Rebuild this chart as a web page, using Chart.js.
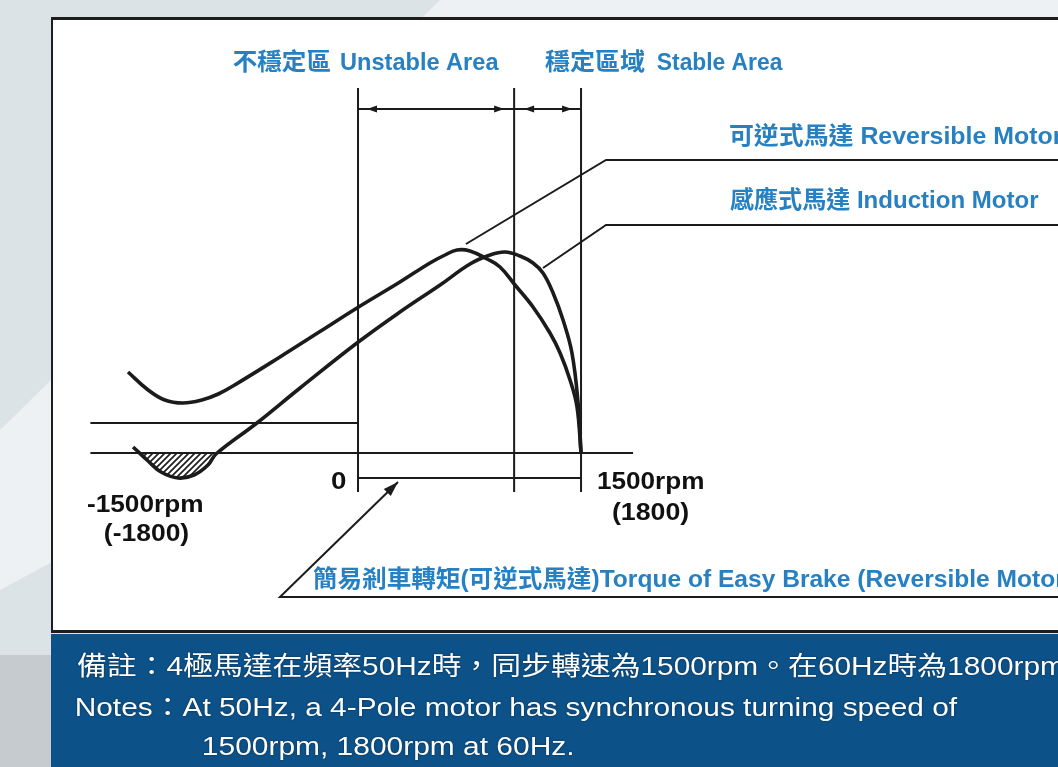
<!DOCTYPE html>
<html>
<head>
<meta charset="utf-8">
<script src="https://cdn.jsdelivr.net/npm/chart.js@4.4.1/dist/chart.umd.min.js"></script>
<style>
  html, body { margin: 0; padding: 0; overflow: hidden; background: #dbe3e7; }
  canvas { display: block; }
</style>
</head>
<body>
<canvas id="myChart" width="1058" height="767"></canvas>
<script>
// speed (rpm) / torque (%)

const reversibleRpm = [-1547, -1420, -1300, -1177, -1050, -940, -841, -525, -256, -7, 282, 484, 585, 666, 753, 868, 955, 1056, 1177, 1291, 1359, 1426, 1473, 1500]
const reversibleTorque = [40.5, 32, 26.5, 25, 26.5, 29.5, 33.5, 48, 60.7, 72.5, 85.5, 95, 99, 101.5, 101, 97, 93, 84, 73, 60, 50, 36.5, 23, 0]

const inductionRpm = [-1513, -1412, -1325, -1210, -1103, -1009, -955, -680, -390, -7, 282, 552, 753, 888, 989, 1090, 1177, 1244, 1312, 1379, 1439, 1480, 1500]
const inductionTorque = [3, -4, -9.5, -12.5, -11, -6, -0.5, 15, 32.5, 55, 70.5, 84, 94.5, 99, 100.5, 98.5, 95, 90, 80, 66.5, 50, 25, 0]

// speed marks: 0, unstable/stable boundary, synchronous speed
const speedMarks = [0, 1050, 1500]
const brakeTorque = 15
const zeroLineRpm = [-1800, 1850]

// leader lines [rpm], [torque]
const reversibleLeaderRpm = [726, 1668, 4800]
const reversibleLeaderTorque = [104.5, 146.5, 146.5]
const inductionLeaderRpm = [1244, 1668, 4800]
const inductionLeaderTorque = [92.5, 114, 114]
const brakeLeaderRpm = [4800, -525, 269]
const brakeLeaderTorque = [-72, -72, -14.5]

// texts
const unstableText = ['不穩定區', 'Unstable Area']
const stableText = ['穩定區域', 'Stable Area']
const reversibleText = '可逆式馬達 Reversible Motor'
const inductionText = '感應式馬達 Induction Motor'
const brakeText = '簡易剎車轉矩(可逆式馬達)Torque of Easy Brake (Reversible Motor)'
const tickTexts = ['0', '1500rpm', '(1800)', '-1500rpm', '(-1800)']
const noteLines = [
    '備註：4極馬達在頻率50Hz時，同步轉速為1500rpm。在60Hz時為1800rpm',
    'Notes：At 50Hz, a 4-Pole motor has synchronous turning speed of',
    '1500rpm, 1800rpm at 60Hz.'
]


let ctx = document.getElementById('myChart').getContext('2d')

// hatch for the braking area
let hatchCanvas = document.createElement('canvas')
hatchCanvas.width = 6
hatchCanvas.height = 6
let hc = hatchCanvas.getContext('2d')
hc.strokeStyle = '#1e1e1e'
hc.lineWidth = 1.7
hc.beginPath()
hc.moveTo(0, 6); hc.lineTo(6, 0)
hc.moveTo(-1, 1); hc.lineTo(1, -1)
hc.moveTo(5, 7); hc.lineTo(7, 5)
hc.stroke()
let hatch = ctx.createPattern(hatchCanvas, 'repeat')

const LINE = '#1b1b1b'
const BLUE = '#2680c2'
const FONT = '"Liberation Sans", "Noto Sans CJK TC", sans-serif'

function line(xs, ys, width, extra) {
    return Object.assign({
        data: xs.map((x, i) => ({x: x, y: ys[i]})),
        borderColor: LINE,
        borderWidth: width,
        pointRadius: 0,
        fill: false,
        tension: 0,
    }, extra || {})
}

const datasets = [
    line([zeroLineRpm[0], speedMarks[0]], [brakeTorque, brakeTorque], 2),
    line(zeroLineRpm, [0, 0], 2),
    line([speedMarks[0], speedMarks[2]], [-12.5, -12.5], 2),
    line([speedMarks[0], speedMarks[2]], [172, 172], 2),
    ...speedMarks.map(m => line([m, m], [182.5, -19.5], 2)),
    line(reversibleLeaderRpm, reversibleLeaderTorque, 2),
    line(inductionLeaderRpm, inductionLeaderTorque, 2),
    line(brakeLeaderRpm, brakeLeaderTorque, 2),
    line(inductionRpm, inductionTorque, 3.6, {
        label: 'Induction Motor',
        tension: 0.4,
        fill: {target: 'origin', above: 'rgba(0,0,0,0)', below: hatch},
    }),
    line(reversibleRpm, reversibleTorque, 3.6, {
        label: 'Reversible Motor',
        tension: 0.4,
    }),
]

// squeeze or stretch a text so its ink spans x0..x1
function fitText(c, text, x0, x1, y) {
    let m = c.measureText(text)
    let ink = m.actualBoundingBoxLeft + m.actualBoundingBoxRight
    c.save()
    c.translate(x0, y)
    c.scale((x1 - x0) / ink, 1)
    c.fillText(text, m.actualBoundingBoxLeft, 0)
    c.restore()
}

function arrowHead(c, tipX, tipY, fromX, fromY, len, half) {
    let a = Math.atan2(tipY - fromY, tipX - fromX)
    c.beginPath()
    c.moveTo(tipX, tipY)
    c.lineTo(tipX - len * Math.cos(a) + half * Math.sin(a), tipY - len * Math.sin(a) - half * Math.cos(a))
    c.lineTo(tipX - len * Math.cos(a) - half * Math.sin(a), tipY - len * Math.sin(a) + half * Math.cos(a))
    c.closePath()
    c.fill()
}

const decor = {
    id: 'decor',
    beforeDraw(chart) {
        const c = chart.ctx
        const w = chart.width, h = chart.height
        c.save()
        c.fillStyle = '#dbe3e7'
        c.fillRect(0, 0, w, h)
        c.fillStyle = '#edf1f3'
        c.beginPath()
        c.moveTo(440, 0); c.lineTo(w, 0); c.lineTo(w, 20); c.lineTo(0, 590); c.lineTo(0, 430)
        c.closePath()
        c.fill()
        c.fillStyle = '#c6cbcf'
        c.fillRect(0, 655, 60, h - 655)
        // white panel
        c.fillStyle = '#ffffff'
        c.fillRect(52, 19, w, 613)
        c.fillStyle = '#1e1e1e'
        c.fillRect(51, 17, w, 3)
        c.fillRect(51, 17, 2, 616)
        c.fillRect(51, 630, w, 3)
        // notes band
        c.fillStyle = '#0c5188'
        c.fillRect(51, 634, w, h - 634)
        c.fillStyle = '#ffffff'
        c.textBaseline = 'middle'
        c.font = '26px ' + FONT
        c.shadowColor = 'rgba(0,0,0,0.5)'
        c.shadowBlur = 2
        fitText(c, noteLines[0], 77, 1063, 668)
        fitText(c, noteLines[1], 77, 958, 709)
        fitText(c, noteLines[2], 203, 572, 748)
        c.restore()
    },
    afterDatasetsDraw(chart) {
        const c = chart.ctx
        const X = v => chart.scales.x.getPixelForValue(v)
        const Y = v => chart.scales.y.getPixelForValue(v)
        c.save()
        c.fillStyle = LINE
        // dimension arrows
        let dy = Y(172)
        let x0 = X(speedMarks[0]), x1 = X(speedMarks[1]), x2 = X(speedMarks[2])
        arrowHead(c, x0 + 9, dy, x0 + 30, dy, 10, 3.5)
        arrowHead(c, x1 - 10, dy, x1 - 30, dy, 10, 3.5)
        arrowHead(c, x1 + 10, dy, x1 + 30, dy, 10, 3.5)
        arrowHead(c, x2 - 9, dy, x2 - 30, dy, 10, 3.5)
        // brake leader arrow
        arrowHead(c, X(brakeLeaderRpm[2]), Y(brakeLeaderTorque[2]), X(brakeLeaderRpm[1]), Y(brakeLeaderTorque[1]), 15, 5)

        c.textBaseline = 'middle'
        c.fillStyle = BLUE
        c.font = 'bold 24px ' + FONT
        fitText(c, unstableText[0], X(-843), X(-182), Y(195))
        fitText(c, unstableText[1], X(-114), X(949), Y(195))
        fitText(c, stableText[0], X(1258), X(1930), Y(195))
        fitText(c, stableText[1], X(2010), X(2858), Y(195))
        fitText(c, reversibleText, X(2502), X(4735), Y(158))
        fitText(c, inductionText, X(2502), X(4575), Y(126))
        fitText(c, brakeText, X(-303), X(4802), Y(-63.5))

        c.fillStyle = '#111111'
        c.font = 'bold 24px ' + FONT
        fitText(c, tickTexts[0], X(-182), X(-81), Y(-14.5))
        fitText(c, tickTexts[1], X(1614), X(2320), Y(-14.5))
        fitText(c, tickTexts[2], X(1715), X(2220), Y(-30))
        fitText(c, tickTexts[3], X(-1823), X(-1049), Y(-26))
        fitText(c, tickTexts[4], X(-1702), X(-1143), Y(-40.5))
        c.restore()
    }
}

const config = {
    type: 'line',
    data: {datasets: datasets},
    options: {
        responsive: false,
        animation: false,
        layout: {padding: 0, autoPadding: false},
        plugins: {
            legend: {display: false},
            tooltip: {enabled: false},
        },
        scales: {
            x: {type: 'linear', min: -2408, max: 4708, display: false},
            y: {type: 'linear', min: -157, max: 226.5, display: false},
        },
    },
    plugins: [decor],
}

const myChart = new Chart(ctx, config)
</script>
</body>
</html>
